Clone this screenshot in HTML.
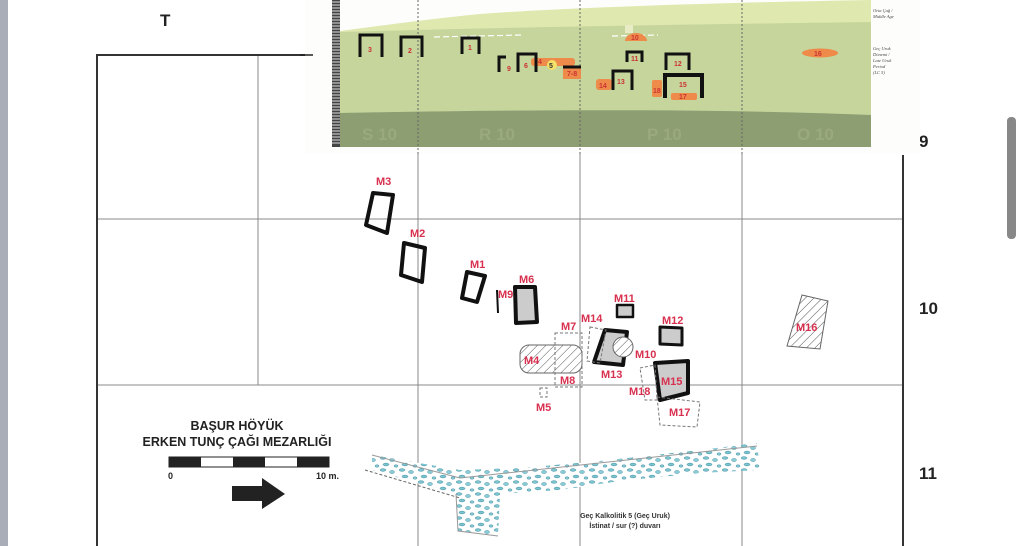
<!DOCTYPE html>
<html><head><meta charset="utf-8"><style>
html,body{margin:0;padding:0;background:#fff;width:1024px;height:546px;overflow:hidden}
svg{display:block;font-family:"Liberation Sans",sans-serif}
</style></head><body>
<svg width="1024" height="546" viewBox="0 0 1024 546">
<defs>
<pattern id="hatch" width="6" height="6" patternUnits="userSpaceOnUse" patternTransform="rotate(45)">
<rect width="6" height="6" fill="#fff"/><line x1="0" y1="0" x2="0" y2="6" stroke="#555" stroke-width="1"/></pattern>
<pattern id="stones" width="19" height="12" patternUnits="userSpaceOnUse">
<rect width="19" height="12" fill="#fff"/>
<ellipse cx="3" cy="2" rx="3" ry="1.3" fill="#7cc4d0" stroke="#3a8e9e" stroke-width=".5"/>
<ellipse cx="12" cy="4" rx="2.5" ry="1.5" fill="#8accd7" stroke="#3a8e9e" stroke-width=".5"/>
<ellipse cx="6" cy="8.5" rx="3" ry="1.4" fill="#7cc4d0" stroke="#3a8e9e" stroke-width=".5"/>
<ellipse cx="16" cy="10" rx="2" ry="1.2" fill="#8accd7" stroke="#3a8e9e" stroke-width=".5"/>
</pattern>
</defs>
<rect x="0" y="0" width="8" height="546" fill="#a9adb8"/>
<text x="160" y="26" font-size="17" font-weight="bold" fill="#222">T</text>
<g stroke="#8a8a8a" stroke-width="1">
<line x1="258" y1="55" x2="258" y2="385"/>
<line x1="418" y1="55" x2="418" y2="546"/>
<line x1="580" y1="55" x2="580" y2="546"/>
<line x1="742" y1="55" x2="742" y2="546"/>
<line x1="96" y1="219" x2="903" y2="219"/>
<line x1="96" y1="385" x2="903" y2="385"/>
</g>
<line x1="96" y1="55" x2="310" y2="55" stroke="#333" stroke-width="2"/>
<line x1="97" y1="55" x2="97" y2="546" stroke="#333" stroke-width="2"/>
<line x1="903" y1="155" x2="903" y2="546" stroke="#333" stroke-width="2"/>
<g font-size="17" font-weight="bold" fill="#222">
<text x="919" y="147">9</text><text x="919" y="314">10</text><text x="919" y="479">11</text></g>
<rect x="1007" y="117" width="9" height="122" rx="4" fill="#888"/>
<rect x="305" y="0" width="615" height="153" fill="#fdfdfb"/>
<path d="M340,31 C380,26 420,20 480,14 C560,8 700,3 871,0 L871,147 L340,147 Z" fill="#dfe8ae"/>
<path d="M340,32 C420,30 500,27 871,22 L871,147 L340,147 Z" fill="#c5d59c"/>
<path d="M340,113 C500,110 700,108 871,115 L871,147 L340,147 Z" fill="#8d9e73"/>
<line x1="300" y1="55" x2="313" y2="55" stroke="#222" stroke-width="1.5"/>
<rect x="332" y="0" width="8" height="147" fill="#444"/>
<g stroke="#ddd" stroke-width="1"><path d="M332,2 h8 M332,5 h8 M332,8 h8 M332,11 h8 M332,14 h8 M332,17 h8 M332,20 h8 M332,23 h8 M332,26 h8 M332,29 h8 M332,32 h8 M332,35 h8 M332,38 h8 M332,41 h8 M332,44 h8 M332,47 h8 M332,50 h8 M332,53 h8 M332,56 h8 M332,59 h8 M332,62 h8 M332,65 h8 M332,68 h8 M332,71 h8 M332,74 h8 M332,77 h8 M332,80 h8 M332,83 h8 M332,86 h8 M332,89 h8 M332,92 h8 M332,95 h8 M332,98 h8 M332,101 h8 M332,104 h8 M332,107 h8 M332,110 h8 M332,113 h8 M332,116 h8 M332,119 h8 M332,122 h8 M332,125 h8 M332,128 h8 M332,131 h8 M332,134 h8 M332,137 h8 M332,140 h8 M332,143 h8"/></g>
<g stroke="#666" stroke-dasharray="2,2" stroke-width="1"><line x1="418" y1="0" x2="418" y2="155"/><line x1="580" y1="0" x2="580" y2="155"/><line x1="742" y1="0" x2="742" y2="155"/></g>
<g stroke="#fff" stroke-dasharray="6,3" stroke-width="1.2"><line x1="434" y1="37" x2="521" y2="35"/><line x1="612" y1="36" x2="658" y2="35"/></g>
<g fill="#ee8a4a">
<path d="M625,41 a11,8 0 0 1 22,0 z"/><rect x="531" y="58" width="44" height="8" rx="3"/><rect x="563" y="66" width="18" height="13"/>
<rect x="596" y="79" width="16" height="11" rx="3"/><rect x="652" y="80" width="10" height="17" rx="2"/><rect x="671" y="93" width="26" height="7" rx="2"/>
<ellipse cx="820" cy="53" rx="18" ry="4.5"/></g>
<rect x="625" y="25" width="8" height="8" fill="#e8ecc4"/>
<circle cx="552" cy="65" r="5" fill="#f5e06a"/>
<g fill="none" stroke="#111" stroke-width="3">
<path d="M360,57 V35 H382 V57"/><path d="M401,57 V37 H422 V57"/><path d="M462,54 V38 H479 V54"/>
<path d="M499,72 V57 H506"/><path d="M518,72 V54 H536 V72"/><path d="M563,67 H581"/>
<path d="M627,62 V52 H642 V62"/><path d="M666,70 V54 H689 V70"/><path d="M613,90 V71 H632 V90"/>
<path d="M665,98 V75 H702 V98" stroke-width="4"/></g>
<g fill="#c33" font-size="7" font-weight="bold">
<text x="368" y="52">3</text><text x="408" y="53">2</text><text x="468" y="50">1</text><text x="507" y="71">9</text><text x="524" y="68">6</text>
<text x="538" y="64">4</text><text x="549" y="68" fill="#333">5</text><text x="567" y="76">7-8</text><text x="631" y="40">10</text><text x="631" y="61">11</text>
<text x="674" y="66">12</text><text x="617" y="84">13</text><text x="599" y="88">14</text><text x="679" y="87">15</text><text x="653" y="93">18</text><text x="679" y="99">17</text><text x="814" y="56">16</text></g>
<g fill="#9aaa7c" font-size="17" font-weight="bold"><text x="362" y="140">S 10</text><text x="479" y="140">R 10</text><text x="647" y="140">P 10</text><text x="797" y="140">O 10</text></g>
<g fill="#444" font-size="4.5" font-style="italic" font-family="Liberation Serif,serif">
<text x="873" y="12">Orta Çağ /</text><text x="873" y="18">Middle Age</text>
<text x="873" y="50">Geç Uruk</text><text x="873" y="56">Dönemi /</text><text x="873" y="62">Late Uruk</text><text x="873" y="68">Period</text><text x="873" y="74">(LC 5)</text></g>
<g fill="none" stroke="#111" stroke-width="4" stroke-linejoin="round">
<polygon points="373,193 393,195 387,233 366,225"/>
<polygon points="404,243 425,248 422,282 401,275"/>
<polygon points="467,272 485,276 477,302 462,298"/>
<line x1="497" y1="290" x2="498" y2="313" stroke-width="2"/>
<polygon points="515,287 535,287 537,322 516,323" fill="#ccc"/>
<polygon points="605,330 627,332 623,365 594,362" fill="#ccc"/>
<polygon points="617,305 633,305 633,317 617,317" fill="#ccc" stroke-width="2.5"/>
<polygon points="660,327 682,328 682,345 660,344" fill="#ccc" stroke-width="3"/>
<polygon points="655,363 688,361 688,393 660,400" fill="#ccc"/>
</g>
<rect x="520" y="345" width="62" height="28" rx="9" fill="url(#hatch)" stroke="#666"/>
<circle cx="623" cy="347" r="10" fill="url(#hatch)" stroke="#666"/>
<polygon points="802,295 828,301 820,349 787,346" fill="url(#hatch)" stroke="#666"/>
<g fill="none" stroke="#777" stroke-dasharray="3,2" stroke-width="1">
<rect x="555" y="333" width="27" height="54"/><polygon points="590,327 606,330 600,363 587,361"/>
<polygon points="640,368 655,365 657,400 645,400"/><polygon points="657,397 700,402 697,427 660,425"/>
<rect x="540" y="388" width="7" height="9"/></g>
<g fill="#d8304f" font-size="11" font-weight="bold">
<text x="376" y="185">M3</text><text x="410" y="237">M2</text><text x="470" y="268">M1</text><text x="498" y="298">M9</text><text x="519" y="283">M6</text>
<text x="561" y="330">M7</text><text x="581" y="322">M14</text><text x="614" y="302">M11</text><text x="662" y="324">M12</text><text x="635" y="358">M10</text>
<text x="601" y="378">M13</text><text x="661" y="385">M15</text><text x="629" y="395">M18</text><text x="669" y="416">M17</text><text x="536" y="411">M5</text>
<text x="560" y="384">M8</text><text x="524" y="364">M4</text><text x="796" y="331">M16</text></g>
<g font-weight="bold" fill="#222" text-anchor="middle" font-size="12.5">
<text x="237" y="430">BAŞUR HÖYÜK</text><text x="237" y="446">ERKEN TUNÇ ÇAĞI MEZARLIĞI</text></g>
<rect x="169" y="457" width="160" height="10" fill="#fff" stroke="#222"/>
<g fill="#222"><rect x="169" y="457" width="32" height="10"/><rect x="233" y="457" width="32" height="10"/><rect x="297" y="457" width="32" height="10"/></g>
<g font-size="9" font-weight="bold" fill="#222"><text x="168" y="479">0</text><text x="316" y="479">10 m.</text></g>
<polygon points="232,486 262,486 262,478 285,494 262,509 262,501 232,501" fill="#222"/>
<polygon points="372,455 460,470 520,468 600,461 700,450 757,443 760,470 700,473 620,481 560,490 500,494 498,536 458,531 456,494 372,470" fill="url(#stones)"/>
<polyline points="372,455 460,478 757,446" fill="none" stroke="#999" stroke-width="1"/>
<polyline points="456,494 458,531 498,536" fill="none" stroke="#999" stroke-width="1"/>
<line x1="365" y1="470" x2="460" y2="498" stroke="#666" stroke-dasharray="3,2"/>
<g font-size="7" font-weight="bold" fill="#333" text-anchor="middle"><text x="625" y="518">Geç Kalkolitik 5 (Geç Uruk)</text><text x="625" y="528">İstinat / sur (?) duvarı</text></g>
</svg>
</body></html>
